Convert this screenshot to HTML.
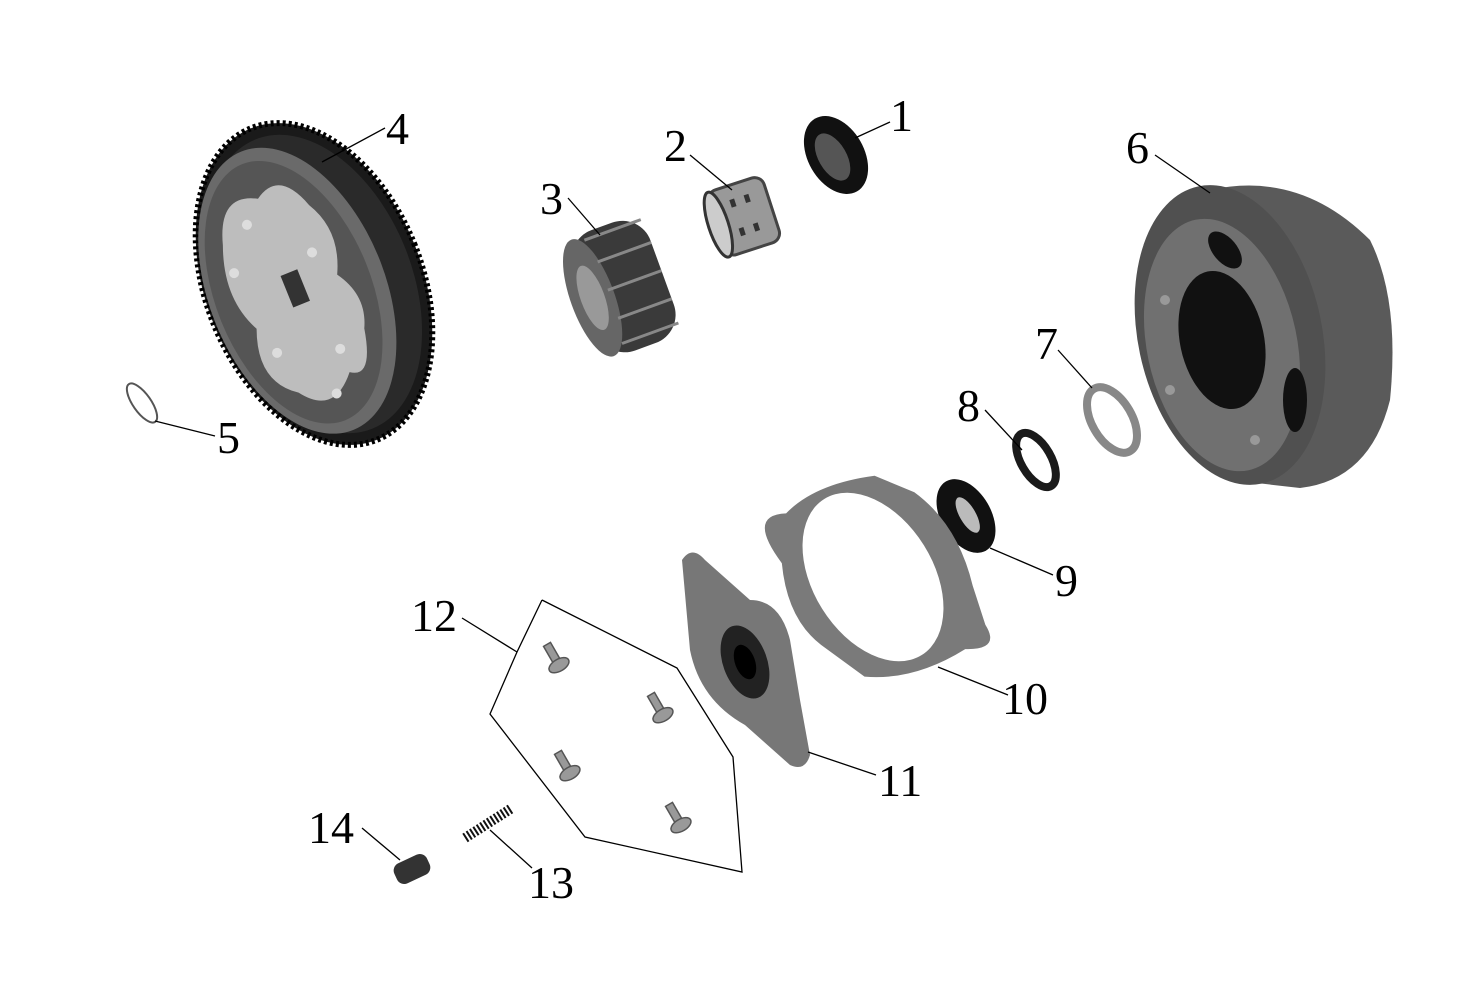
<!DOCTYPE html>
<html><head><meta charset="utf-8"><style>
html,body{margin:0;padding:0;background:#fff;}
svg{display:block;}
text{font-family:"Liberation Serif","Noto Serif CJK SC",serif;font-size:46px;fill:#000;}
</style></head><body>
<svg width="1476" height="984" viewBox="0 0 1476 984" xmlns="http://www.w3.org/2000/svg">
<!-- Gear 4 -->
<g transform="translate(314,284) rotate(-22)">
<ellipse cx="0" cy="0" rx="108" ry="168" fill="#1a1a1a" stroke="#000" stroke-width="6" stroke-dasharray="3 3"/>
<ellipse cx="0" cy="0" rx="98" ry="156" fill="#2a2a2a"/>
<ellipse cx="-18" cy="0" rx="88" ry="150" fill="#6a6a6a"/>
<ellipse cx="-22" cy="0" rx="78" ry="138" fill="#555"/>
<path d="M-70,-70 Q-90,-20 -70,20 Q-90,70 -55,95 Q-30,130 0,95 Q20,110 30,60 Q45,30 25,0 Q45,-40 25,-75 Q10,-120 -20,-100 Q-55,-120 -70,-70Z" fill="#bdbdbd"/>
<rect x="-28" y="-20" width="18" height="34" fill="#333"/>
<circle cx="-40" cy="-80" r="5" fill="#ddd"/><circle cx="-70" cy="-40" r="5" fill="#ddd"/>
<circle cx="10" cy="-30" r="5" fill="#ddd"/><circle cx="-60" cy="50" r="5" fill="#ddd"/>
<circle cx="0" cy="70" r="5" fill="#ddd"/><circle cx="-20" cy="110" r="5" fill="#ddd"/>
</g>
<!-- ring 5 -->
<ellipse cx="142" cy="403" rx="9" ry="23" transform="rotate(-35 142 403)" fill="none" stroke="#555" stroke-width="2"/>
<!-- gear 3 -->
<g transform="translate(622,285) rotate(-20)">
<rect x="-40" y="-62" width="82" height="128" rx="30" fill="#3a3a3a"/>
<ellipse cx="-32" cy="2" rx="22" ry="62" fill="#666"/>
<ellipse cx="-32" cy="2" rx="12" ry="34" fill="#999"/>
<g stroke="#888" stroke-width="3"><line x1="-20" y1="-55" x2="40" y2="-55"/><line x1="-15" y1="-30" x2="42" y2="-30"/><line x1="-15" y1="0" x2="42" y2="0"/><line x1="-15" y1="30" x2="42" y2="30"/><line x1="-20" y1="55" x2="40" y2="55"/></g>
</g>
<!-- bearing 2 -->
<g transform="translate(745,216) rotate(-18)">
<rect x="-30" y="-34" width="58" height="68" rx="10" fill="#999" stroke="#444" stroke-width="3"/>
<ellipse cx="-28" cy="0" rx="10" ry="34" fill="#ccc" stroke="#333" stroke-width="3"/>
<g fill="#333"><rect x="-10" y="-20" width="5" height="8"/><rect x="5" y="-20" width="5" height="8"/><rect x="-10" y="10" width="5" height="8"/><rect x="5" y="10" width="5" height="8"/></g>
</g>
<!-- seal 1 -->
<g transform="translate(836,155) rotate(-30)">
<ellipse cx="0" cy="0" rx="28" ry="42" fill="#111"/>
<ellipse cx="-4" cy="0" rx="14" ry="26" fill="#555"/>
</g>
<!-- drum 6 -->
<g>
<path d="M1210,190 Q1300,170 1370,240 Q1400,300 1390,400 Q1370,480 1300,488 L1230,480 Z" fill="#5a5a5a"/>
<ellipse cx="1230" cy="335" rx="92" ry="152" transform="rotate(-12 1230 335)" fill="#505050"/>
<ellipse cx="1222" cy="345" rx="75" ry="128" transform="rotate(-12 1222 345)" fill="#707070"/>
<ellipse cx="1222" cy="340" rx="42" ry="70" transform="rotate(-12 1222 340)" fill="#111"/>
<ellipse cx="1225" cy="250" rx="12" ry="22" transform="rotate(-40 1225 250)" fill="#111"/>
<ellipse cx="1295" cy="400" rx="12" ry="32" fill="#111"/>
<circle cx="1165" cy="300" r="5" fill="#999"/><circle cx="1170" cy="390" r="5" fill="#999"/><circle cx="1255" cy="440" r="5" fill="#999"/>
</g>
<!-- clip 7 -->
<g transform="translate(1112,420) rotate(-30)">
<ellipse cx="0" cy="0" rx="20" ry="36" fill="none" stroke="#888" stroke-width="8"/>
</g>
<!-- washer 8 -->
<ellipse cx="1036" cy="460" rx="15" ry="30" transform="rotate(-30 1036 460)" fill="none" stroke="#1a1a1a" stroke-width="8"/>
<!-- seal 9 -->
<g transform="translate(966,516) rotate(-30)">
<ellipse cx="0" cy="0" rx="25" ry="40" fill="#111"/>
<ellipse cx="2" cy="0" rx="8" ry="20" fill="#bbb"/>
</g>
<!-- gasket 10 -->
<g transform="translate(873,577) rotate(-32)">
<path d="M-70,-60 Q-75,-120 -40,-100 Q0,-110 55,-85 L80,-50 Q100,0 80,60 L70,100 Q70,130 40,110 Q-20,110 -60,80 L-80,30 Q-95,-10 -70,-60Z" fill="#7a7a7a"/>
<ellipse cx="0" cy="0" rx="60" ry="92" fill="#fff"/>
</g>
<!-- plate 11 -->
<g>
<path d="M682,560 Q692,545 705,560 L750,600 Q780,600 790,640 L800,700 L810,755 Q805,772 790,765 L745,725 Q700,700 690,650 Z" fill="#777"/>
<ellipse cx="745" cy="662" rx="22" ry="38" transform="rotate(-20 745 662)" fill="#222"/>
<ellipse cx="745" cy="662" rx="10" ry="18" transform="rotate(-20 745 662)" fill="#000"/>
</g>
<!-- screws -->
<g fill="#999" stroke="#555" stroke-width="1.5">
<g transform="translate(556,660) rotate(-30)"><rect x="-4" y="-18" width="8" height="20"/><ellipse cx="0" cy="6" rx="11" ry="6"/></g>
<g transform="translate(660,710) rotate(-30)"><rect x="-4" y="-18" width="8" height="20"/><ellipse cx="0" cy="6" rx="11" ry="6"/></g>
<g transform="translate(567,768) rotate(-30)"><rect x="-4" y="-18" width="8" height="20"/><ellipse cx="0" cy="6" rx="11" ry="6"/></g>
<g transform="translate(678,820) rotate(-30)"><rect x="-4" y="-18" width="8" height="20"/><ellipse cx="0" cy="6" rx="11" ry="6"/></g>
</g>
<!-- spring 13 -->
<line x1="465" y1="838" x2="512" y2="808" stroke="#111" stroke-width="10" stroke-dasharray="2 2"/>
<!-- pin 14 -->
<rect x="394" y="858" width="36" height="22" rx="8" transform="rotate(-25 412 869)" fill="#333"/>
<!-- polygon -->
<polyline points="542,600 677,668 733,757 742,872 585,837 490,714 517,652 542,600" fill="none" stroke="#000" stroke-width="1.3"/>
<!-- leader lines -->
<g stroke="#000" stroke-width="1.3">
<line x1="890" y1="122" x2="855" y2="138"/>
<line x1="690" y1="155" x2="732" y2="190"/>
<line x1="568" y1="198" x2="600" y2="235"/>
<line x1="385" y1="128" x2="322" y2="162"/>
<line x1="215" y1="436" x2="155" y2="421"/>
<line x1="1155" y1="155" x2="1210" y2="193"/>
<line x1="1058" y1="350" x2="1092" y2="388"/>
<line x1="985" y1="410" x2="1022" y2="450"/>
<line x1="1053" y1="575" x2="990" y2="548"/>
<line x1="1008" y1="695" x2="938" y2="667"/>
<line x1="876" y1="775" x2="808" y2="752"/>
<line x1="462" y1="618" x2="517" y2="652"/>
<line x1="532" y1="868" x2="490" y2="830"/>
<line x1="362" y1="828" x2="400" y2="860"/>
</g>
<text x="890" y="131">1</text>
<text x="664" y="161">2</text>
<text x="540" y="214">3</text>
<text x="386" y="144">4</text>
<text x="217" y="453">5</text>
<text x="1126" y="163">6</text>
<text x="1035" y="359">7</text>
<text x="957" y="421">8</text>
<text x="1055" y="596">9</text>
<text x="1002" y="714">10</text>
<text x="878" y="796">11</text>
<text x="411" y="631">12</text>
<text x="528" y="898">13</text>
<text x="308" y="843">14</text>
</svg>
</body></html>
